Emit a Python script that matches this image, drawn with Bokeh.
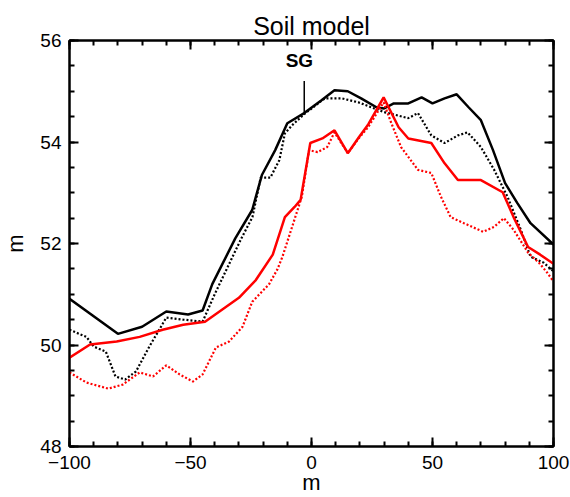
from bokeh.plotting import figure
from bokeh.models import LinearAxis, FixedTicker, Range1d, Label
from bokeh.embed import file_html
from bokeh.resources import INLINE

# ---- data ----
black_solid_x = [-100, -80, -70, -60, -51, -45, -41, -31.5, -24.5, -20.5, -15, -10, -3, 4, 9.5, 15, 20.5, 27, 30, 34, 40, 45.5, 50, 55, 60, 65, 70, 75, 80, 85, 90.5, 100]
black_solid_y = [50.91, 50.22, 50.36, 50.66, 50.60, 50.68, 51.2, 52.1, 52.66, 53.35, 53.84, 54.37, 54.57, 54.82, 55.02, 55.0, 54.86, 54.68, 54.66, 54.76, 54.76, 54.88, 54.76, 54.86, 54.94, 54.68, 54.43, 53.84, 53.19, 52.8, 52.4, 51.98]

black_dot_x = [-100, -93, -90, -85, -81, -77, -72.5, -67, -60, -53, -45, -40, -35, -29, -24.4, -21, -17, -13.3, -11, -8, -3, 5.5, 12.5, 19.5, 26, 30, 40, 44, 49.5, 55, 60.5, 64.5, 70, 75.5, 81, 86.5, 90.5, 96, 100]
black_dot_y = [50.30, 50.16, 49.97, 49.87, 49.38, 49.32, 49.48, 49.97, 50.54, 50.50, 50.46, 51.0, 51.5, 52.1, 52.52, 53.3, 53.3, 53.64, 54.17, 54.33, 54.55, 54.86, 54.86, 54.78, 54.66, 54.59, 54.47, 54.57, 54.13, 53.98, 54.13, 54.19, 53.9, 53.45, 52.92, 52.27, 51.74, 51.62, 51.45]

red_solid_x = [-100, -91.5, -80.5, -71, -61.5, -53, -44, -30, -23, -16, -11, -7, -4.5, -0.5, 4.5, 9.5, 15, 19.5, 23.5, 29.8, 36, 40, 49.5, 55, 60.5, 70, 79, 83.5, 89.5, 94.5, 100]
red_solid_y = [49.75, 50.01, 50.07, 50.16, 50.30, 50.40, 50.46, 50.93, 51.28, 51.78, 52.52, 52.72, 52.86, 53.98, 54.07, 54.23, 53.78, 54.09, 54.35, 54.88, 54.29, 54.07, 53.98, 53.58, 53.25, 53.25, 53.01, 52.52, 51.93, 51.78, 51.60]

red_dot_x = [-100, -93, -84, -78, -71, -65.5, -60, -54.5, -49, -45, -39.5, -34, -28.5, -24.5, -17.5, -14, -12, -8, -4, -1, 2.5, 6.5, 9.5, 15, 19.5, 23.5, 29.8, 33, 37, 44, 49.5, 53.5, 57.5, 63, 71, 75.5, 79.5, 83.5, 89.5, 94, 97.5, 100]
red_dot_y = [49.46, 49.26, 49.14, 49.22, 49.46, 49.38, 49.60, 49.42, 49.28, 49.42, 49.95, 50.07, 50.36, 50.85, 51.2, 51.5, 51.74, 52.33, 52.92, 53.84, 53.80, 53.90, 54.19, 53.78, 54.07, 54.3, 54.78, 54.37, 53.9, 53.45, 53.39, 52.92, 52.52, 52.4, 52.23, 52.33, 52.5, 52.27, 51.82, 51.62, 51.42, 51.25]

x_ticks = [-100, -50, 0, 50, 100]
x_tick_labels = ["\u2212100", "\u221250", "0", "50", "100"]
y_ticks = [48, 50, 52, 54, 56]
y_tick_labels = ["48", "50", "52", "54", "56"]

sg_x = -3
sg_y0, sg_y1 = 54.57, 55.2
sg_label = "SG"

FONT = "Liberation Sans"

p = figure(width=570, height=497, output_backend="svg", toolbar_location=None,
           x_range=Range1d(-100, 100), y_range=Range1d(48, 56),
           min_border_left=66, min_border_right=17, min_border_top=40, min_border_bottom=50,
           x_axis_label="m", y_axis_label="m")
p.title.text = "Soil model"
p.title.align = "center"
p.title.text_font = FONT
p.title.text_font_size = "25px"
p.title.text_font_style = "normal"
p.title.text_color = "black"
p.title.standoff = 2
p.grid.visible = False
p.outline_line_color = "black"
p.outline_line_width = 2

x_minor = [v for v in range(-100, 101, 10)]
y_minor = [48 + 0.5 * i for i in range(17)]

def style_axis(ax, ticks, minor, labels, show_labels):
    ax.ticker = FixedTicker(ticks=ticks, minor_ticks=minor)
    ax.axis_line_width = 2
    ax.major_tick_in = 9
    ax.major_tick_out = 0
    ax.minor_tick_in = 5
    ax.minor_tick_out = 0
    ax.major_tick_line_width = 2
    ax.minor_tick_line_width = 2
    ax.major_label_text_font = FONT
    ax.major_label_text_font_size = "19px"
    ax.major_label_text_color = "black"
    ax.axis_label_text_font = FONT
    ax.axis_label_text_font_size = "22px"
    ax.axis_label_text_font_style = "normal"
    ax.axis_label_text_color = "black"
    if show_labels:
        ax.major_label_overrides = dict(zip(ticks, labels))
    else:
        ax.major_label_text_font_size = "1px"
        ax.major_label_text_color = None
        ax.major_label_standoff = 0

for ax in p.xaxis:
    style_axis(ax, x_ticks, x_minor, x_tick_labels, True)
    ax.major_label_standoff = 9
    ax.axis_label_standoff = -2
for ax in p.yaxis:
    style_axis(ax, y_ticks, y_minor, y_tick_labels, True)
    ax.major_label_standoff = 8
    ax.axis_label_standoff = 9

top = LinearAxis()
style_axis(top, x_ticks, x_minor, x_tick_labels, False)
p.add_layout(top, "above")
right = LinearAxis()
style_axis(right, y_ticks, y_minor, y_tick_labels, False)
p.add_layout(right, "right")

p.line(black_solid_x, black_solid_y, line_color="black", line_width=2.5)
p.line(black_dot_x, black_dot_y, line_color="black", line_width=2.2, line_dash="2 2")
p.line(red_solid_x, red_solid_y, line_color="#ff0000", line_width=2.5)
p.line(red_dot_x, red_dot_y, line_color="#ff0000", line_width=2.2, line_dash="2 2")

p.segment(x0=[sg_x], y0=[sg_y0], x1=[sg_x], y1=[sg_y1], line_color="black", line_width=1.5)
p.add_layout(Label(x=sg_x - 2, y=55.6, text=sg_label, text_align="center", text_baseline="middle",
                   text_font=FONT, text_font_size="19px", text_font_style="bold", text_color="black"))

open("out.html", "w").write(file_html(p, INLINE))
